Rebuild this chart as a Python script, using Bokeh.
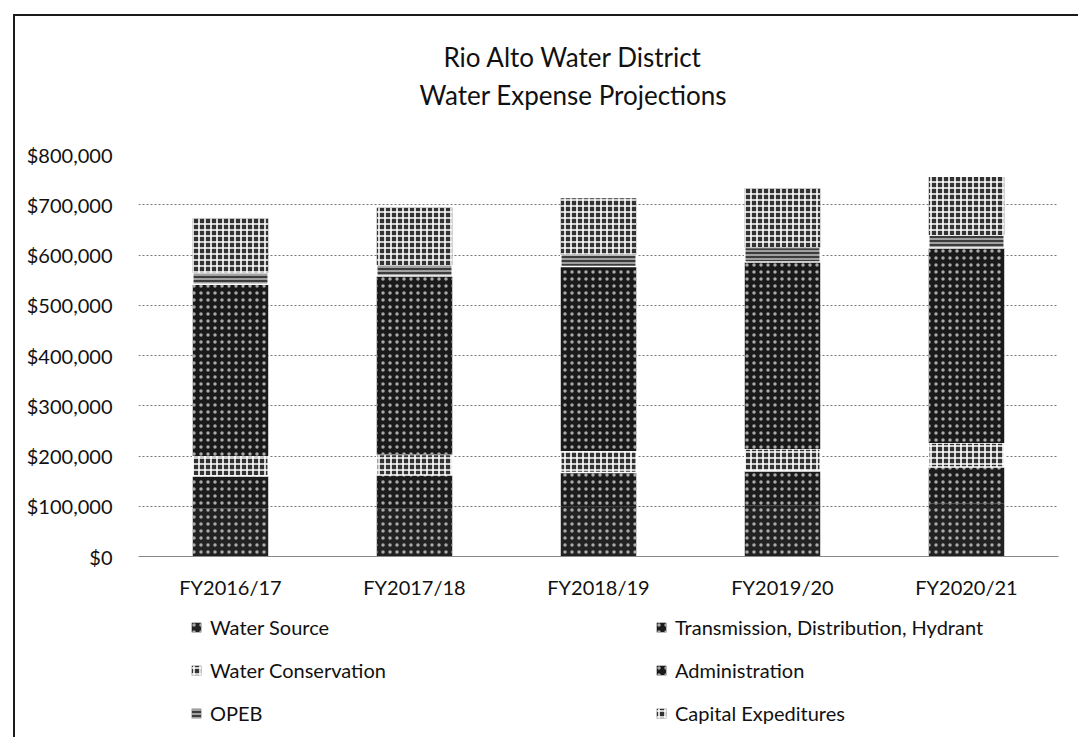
from bokeh.plotting import figure
from bokeh.layouts import column
from bokeh.models import (Range1d, FactorRange, FixedTicker, NumeralTickFormatter,
                          Legend, LegendItem, Title)
from bokeh.embed import file_html
from bokeh.resources import INLINE

categories = ["FY2016/17", "FY2017/18", "FY2018/19", "FY2019/20", "FY2020/21"]
series_names = ["Water Source", "Transmission, Distribution, Hydrant", "Water Conservation",
                "Administration", "OPEB", "Capital Expeditures"]
water_source = [95000, 96000, 99000, 101000, 106000]
transmission = [65000, 66000, 68000, 69000, 72000]
water_conservation = [40000, 41000, 43000, 44000, 48000]
administration = [342000, 355000, 367000, 372000, 388000]
opeb = [22000, 22000, 24000, 29000, 26000]
capital = [109000, 114000, 112000, 118000, 115000]
y_ticks = [0, 100000, 200000, 300000, 400000, 500000, 600000, 700000, 800000]

keys = ["ws", "td", "wc", "ad", "op", "cx"]
data = dict(x=categories, ws=water_source, td=transmission, wc=water_conservation,
            ad=administration, op=opeb, cx=capital)

FONT = "Lato"

p = figure(x_range=FactorRange(*categories, range_padding=0), y_range=Range1d(0, 800000),
           frame_width=920, frame_height=402, output_backend="svg", toolbar_location=None,
           min_border_left=123, min_border_right=20, min_border_top=138, min_border_bottom=44)

fills = ["#222222", "#1c1c1c", "#333333", "#1a1a1a", "#3c3c3c", "#333333"]
hatches = [".", ".", "+", ".", "-", "+"]
hcolors = ["#aaaaaa", "#aaaaaa", "#ffffff", "#aaaaaa", "#cccccc", "#ffffff"]
hscales = [7, 7, 6, 7, 4, 6]
hweights = [1, 1, 1.6, 1, 1.4, 1.6]
lcolors = [None, None, "white", None, "white", None]

rs = p.vbar_stack(keys, x="x", width=0.41, source=data,
                  fill_color=fills, hatch_pattern=hatches, hatch_color=hcolors,
                  hatch_scale=hscales, hatch_weight=hweights,
                  line_color=lcolors, line_width=1.5)

p.yaxis.ticker = FixedTicker(ticks=y_ticks)
p.yaxis.formatter = NumeralTickFormatter(format="$0,0")
p.yaxis.axis_line_color = None
p.yaxis.major_tick_line_color = None
p.yaxis.minor_tick_line_color = None
p.yaxis.major_label_standoff = 20
p.xaxis.axis_line_color = "#888888"
p.xaxis.major_tick_line_color = None
p.xaxis.major_label_standoff = 12
for ax in (p.xaxis, p.yaxis):
    ax.major_label_text_font = FONT
    ax.major_label_text_font_size = "20px"
    ax.major_label_text_color = "#111111"

p.xgrid.grid_line_color = None
p.ygrid.grid_line_color = "#555555"
p.ygrid.grid_line_dash = "2 2"
p.ygrid.grid_line_alpha = 0.8
p.outline_line_color = None

spacer = Title(text="\u00a0", text_font_size="2px", standoff=35)
t2 = Title(text="Water Expense Projections", align="left", text_font=FONT,
           text_font_size="26px", text_font_style="normal", text_color="#111111",
           standoff=9, offset=281)
t1 = Title(text="Rio Alto Water District", align="left", text_font=FONT,
           text_font_size="26px", text_font_style="normal", text_color="#111111",
           standoff=0, offset=305)
p.add_layout(spacer, "above")
p.add_layout(t2, "above")
p.add_layout(t1, "above")

# legend panel below the chart (proxy glyphs sit outside the visible range)
lp = figure(width=1063, height=136, x_range=Range1d(0, 1), y_range=Range1d(0, 1),
            output_backend="svg", toolbar_location=None, x_axis_type=None, y_axis_type=None,
            min_border=0)
lp.xgrid.grid_line_color = None
lp.ygrid.grid_line_color = None
lp.outline_line_color = None
proxies = []
for i in range(len(keys)):
    proxies.append(lp.vbar(x=[-5], top=[-5], width=0.5, fill_color=fills[i],
                           hatch_pattern=hatches[i], hatch_color=hcolors[i],
                           hatch_scale=hscales[i], hatch_weight=hweights[i],
                           line_color=None))
items = [LegendItem(label=n, renderers=[r]) for n, r in zip(series_names, proxies)]
legend = Legend(items=items, orientation="horizontal", ncols=2, location=(52, 12),
                label_text_font=FONT, label_text_font_size="20px", label_text_color="#111111",
                glyph_width=12, glyph_height=12, label_width=426, label_standoff=8,
                spacing=19, padding=10, margin=0, border_line_color=None,
                background_fill_alpha=0)
lp.add_layout(legend, "center")

layout = column(p, lp, spacing=0)
layout.styles = {"margin-left": "13px", "margin-top": "14px",
                 "border-left": "2px solid #1a1a1a", "border-top": "2px solid #1a1a1a"}

open("out.html", "w").write(file_html(layout, INLINE))
